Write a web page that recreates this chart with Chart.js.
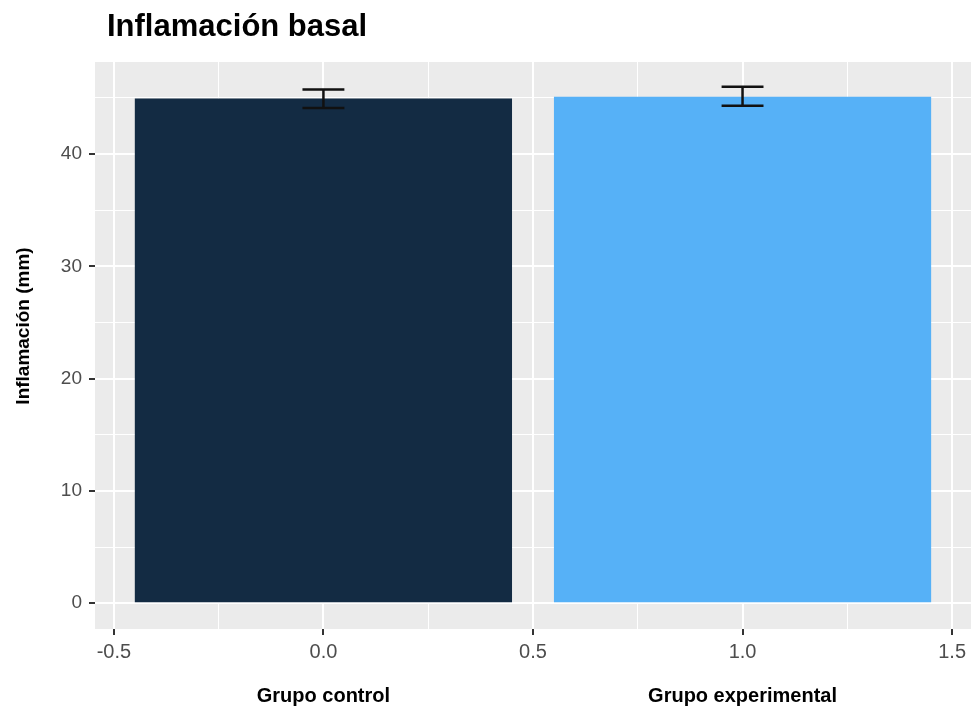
<!DOCTYPE html>
<html>
<head>
<meta charset="utf-8">
<title>Inflamación basal</title>
<script src="https://cdn.jsdelivr.net/npm/chart.js@4.4.1/dist/chart.umd.min.js"></script>
<style>
  body { margin: 0; background: #fff; }
  canvas { display: block; }
</style>
</head>
<body>
<canvas id="chart" width="971" height="706"></canvas>
<script>
// groups, bar means and error bar limits
const groups = ['Grupo control', 'Grupo experimental'];
const groupX = [0, 1];
const means = [44.95, 45.1];
const errLow = [44.1, 44.3];
const errHigh = [45.75, 46.0];
const barColors = ['#132B43', '#56B1F7'];

// axis ranges and tick positions
const xRange = [-0.545, 1.545];
const xMajor = [-0.5, 0, 0.5, 1, 1.5];
const xMinor = [-0.25, 0.25, 0.75, 1.25];
const yRange = [-2.3, 48.2];
const yMajor = [0, 10, 20, 30, 40];
const yMinor = [5, 15, 25, 35, 45];

const barWidth = 0.9;
const capWidth = 0.1;
const FONT = "'Liberation Sans', Arial, Helvetica, sans-serif";

Chart.defaults.font.family = FONT;

// put both major and minor ticks on a scale, flagging the major ones
function setTicks(major, minor) {
    return function(scale) {
        scale.ticks = major.concat(minor)
            .sort((a, b) => a - b)
            .map(v => ({ value: v, isMajor: major.includes(v) }));
    };
}

function isMajor(ctx) {
    return ctx.tick && ctx.tick.isMajor;
}

function gridOptions() {
    return {
        offset: false,
        color: '#FFFFFF',
        lineWidth: ctx => isMajor(ctx) ? 2 : 1,
        tickColor: ctx => isMajor(ctx) ? '#333333' : 'rgba(0,0,0,0)',
        tickWidth: 2,
        tickLength: 6,
        drawTicks: true
    };
}

// grey panel, error bars and the extra texts
const ggPanel = {
    id: 'ggPanel',
    beforeDraw(chart) {
        const { ctx, chartArea: a } = chart;
        ctx.save();
        ctx.fillStyle = '#EBEBEB';
        ctx.fillRect(a.left, a.top, a.right - a.left, a.bottom - a.top);
        ctx.restore();
    },
    afterDatasetsDraw(chart) {
        const { ctx } = chart;
        const x = chart.scales.x;
        const y = chart.scales.y;
        ctx.save();
        ctx.strokeStyle = '#111111';
        ctx.lineWidth = 2.5;
        groupX.forEach((gx, i) => {
            const cx = x.getPixelForValue(gx);
            const x0 = x.getPixelForValue(gx - capWidth / 2);
            const x1 = x.getPixelForValue(gx + capWidth / 2);
            const yl = y.getPixelForValue(errLow[i]);
            const yh = y.getPixelForValue(errHigh[i]);
            ctx.beginPath();
            ctx.moveTo(cx, yl);
            ctx.lineTo(cx, yh);
            ctx.moveTo(x0, yh);
            ctx.lineTo(x1, yh);
            ctx.moveTo(x0, yl);
            ctx.lineTo(x1, yl);
            ctx.stroke();
        });
        ctx.restore();
    },
    afterDraw(chart) {
        const { ctx, chartArea: a } = chart;
        const x = chart.scales.x;
        ctx.save();
        ctx.fillStyle = '#000000';

        // title
        ctx.font = 'bold 31px ' + FONT;
        ctx.textAlign = 'left';
        ctx.textBaseline = 'alphabetic';
        ctx.fillText('Inflamación basal', a.left + 12, 36);

        // group names under the x axis
        ctx.font = 'bold 20px ' + FONT;
        ctx.textAlign = 'center';
        groups.forEach((g, i) => {
            ctx.fillText(g, x.getPixelForValue(groupX[i]), 702);
        });

        // y axis title
        ctx.font = 'bold 19px ' + FONT;
        ctx.translate(24, 326);
        ctx.rotate(-Math.PI / 2);
        ctx.textBaseline = 'middle';
        ctx.fillText('Inflamación (mm)', 0, 0);
        ctx.restore();
    }
};

new Chart(document.getElementById('chart'), {
    type: 'bar',
    data: {
        datasets: [{
            data: groupX.map((gx, i) => ({ x: gx, y: means[i] })),
            backgroundColor: barColors,
            borderWidth: 0,
            barPercentage: barWidth,
            categoryPercentage: 1,
            xAxisID: 'xb',
            yAxisID: 'y'
        }]
    },
    options: {
        responsive: false,
        animation: false,
        layout: { padding: { top: 62, left: 0, right: 0, bottom: 0 } },
        plugins: {
            legend: { display: false },
            tooltip: { enabled: false },
            title: { display: false }
        },
        scales: {
            // visible continuous x axis
            x: {
                type: 'linear',
                position: 'bottom',
                offset: false,
                min: xRange[0],
                max: xRange[1],
                bounds: 'data',
                afterBuildTicks: setTicks(xMajor, xMinor),
                afterFit: s => { s.height = 77; },
                border: { display: false },
                grid: gridOptions(),
                ticks: {
                    autoSkip: false,
                    maxRotation: 0,
                    padding: 5,
                    color: '#4D4D4D',
                    font: { size: 20 },
                    callback: (value, index, ticks) => ticks[index].isMajor ? value.toFixed(1) : ''
                }
            },
            // hidden axis that positions the bars
            xb: {
                type: 'linear',
                display: false,
                offset: false,
                min: xRange[0],
                max: xRange[1],
                bounds: 'data',
                grid: { offset: false },
                afterBuildTicks: s => { s.ticks = []; }
            },
            y: {
                type: 'linear',
                min: yRange[0],
                max: yRange[1],
                bounds: 'data',
                afterBuildTicks: setTicks(yMajor, yMinor),
                afterFit: s => { s.width = 95; },
                border: { display: false },
                grid: gridOptions(),
                ticks: {
                    autoSkip: false,
                    padding: 7,
                    color: '#4D4D4D',
                    font: { size: 19 },
                    callback: (value, index, ticks) => ticks[index].isMajor ? String(value) : ''
                }
            }
        }
    },
    plugins: [ggPanel]
});
</script>
</body>
</html>
